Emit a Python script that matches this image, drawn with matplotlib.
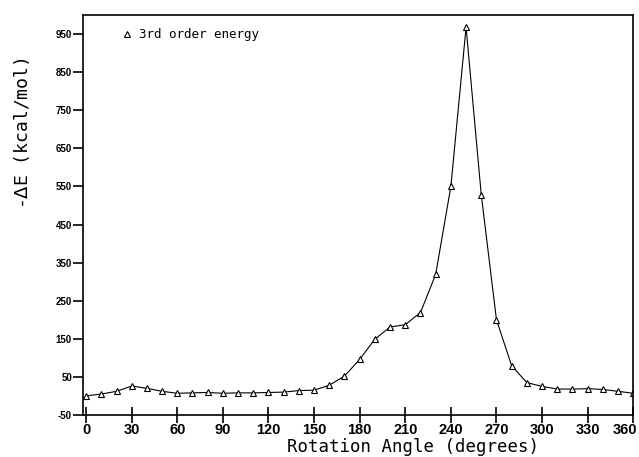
import matplotlib.pyplot as plt
from matplotlib.lines import Line2D
from matplotlib.transforms import ScaledTranslation

# rotation angle (degrees) and -dE (kcal/mol), 3rd order energy
angle = [0, 10, 20, 30, 40, 50, 60, 70, 80, 90, 100, 110, 120, 130, 140, 150,
         160, 170, 180, 190, 200, 210, 220, 230, 240, 250, 260, 270, 280, 290,
         300, 310, 320, 330, 340, 350, 360]
energy = [0, 5, 12, 26, 20, 12, 7, 8, 9, 7, 8, 8, 9, 10, 14, 15,
          28, 52, 96, 149, 181, 187, 219, 319, 550, 968, 528, 200, 79, 35,
          25, 18, 18, 19, 17, 12, 7]

xticks = list(range(0, 361, 30))
yticks = list(range(-50, 951, 100))

tick_font = ['Liberation Sans', 'DejaVu Sans']
mono = ['DejaVu Sans Mono']

fig = plt.figure(figsize=(6.39, 4.57), dpi=100)
ax = fig.add_axes([0.130, 0.092, 0.861, 0.875])

ax.plot(angle, energy, color='k', lw=0.8, marker='^', ms=5,
        mfc='white', mec='k', mew=0.8)

ax.set_xlim(-2, 360)
ax.set_ylim(-50, 1000)

ax.set_xticks(xticks)
ax.set_yticks(yticks)
ax.set_xticklabels([str(v) for v in xticks], fontsize=10.5, fontweight='bold',
                   family=tick_font)
ax.set_yticklabels([str(v) for v in yticks], fontsize=7, fontweight='bold',
                   family=tick_font)
ax.tick_params(axis='x', direction='inout', length=12, width=1.2, pad=0)
ax.tick_params(axis='y', direction='out', length=7, width=1.2, pad=1)

# last x label sits flush with the right edge
last = ax.get_xticklabels()[-1]
last.set_transform(last.get_transform() + ScaledTranslation(-6 / 72, 0, fig.dpi_scale_trans))

for s in ax.spines.values():
    s.set_linewidth(1.2)

ax.set_xlabel('Rotation Angle (degrees)', fontsize=12.5, family=mono, va='center')
ax.xaxis.set_label_coords(0.60, -0.08)
ax.set_ylabel(r'-$\Delta$E (kcal/mol)', fontsize=13, family=mono)
ax.yaxis.set_label_coords(-0.092, 0.705)

handle = Line2D([], [], color='k', ls='none', marker='^', ms=5,
                mfc='white', mec='k', mew=0.8)
ax.legend([handle], ['3rd order energy'], loc='upper left', frameon=False,
          prop={'family': mono, 'size': 9}, handlelength=0.8,
          handletextpad=0.6, bbox_to_anchor=(0.05, 0.995))

fig.savefig('out.png', dpi=100)
